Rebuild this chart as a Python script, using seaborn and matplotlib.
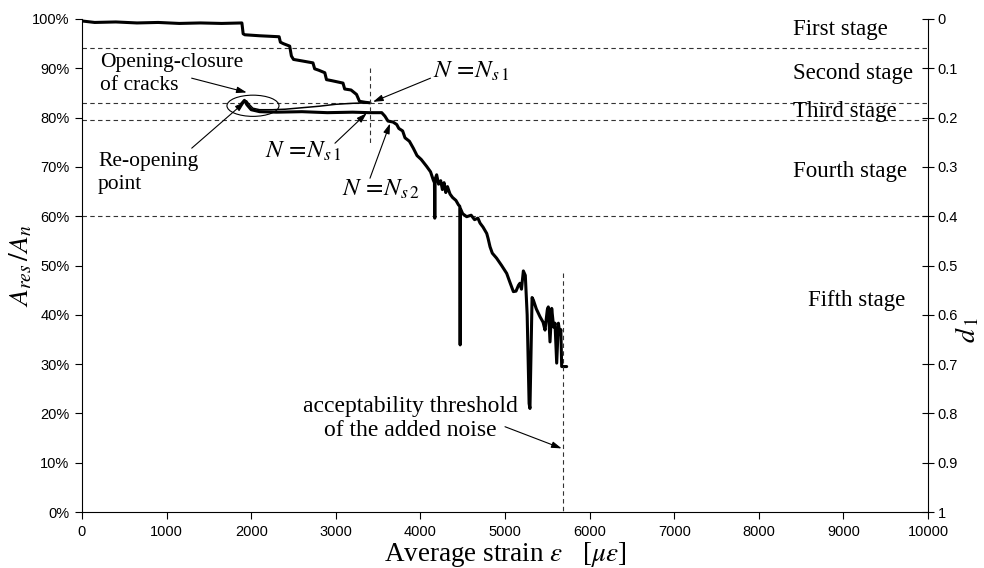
import matplotlib
matplotlib.use("Agg")
import matplotlib.pyplot as plt
import pandas as pd
import seaborn as sns
from matplotlib.patches import Ellipse
from matplotlib.ticker import FuncFormatter, FixedLocator

# --- data -----------------------------------------------------------------
# first loading: stepwise loss of the residual area ratio (%)
load_strain = [0, 150, 400, 650, 900, 1150, 1400, 1650, 1890, 1905, 1925, 2100,
               2330, 2345, 2380, 2455, 2475, 2500, 2600, 2730, 2750, 2800, 2870,
               2890, 2950, 3085, 3105, 3180, 3245, 3280, 3350, 3404]
load_ratio = [99.6, 99.3, 99.4, 99.2, 99.3, 99.1, 99.2, 99.1, 99.2, 97.0, 96.8, 96.6,
              96.4, 95.3, 95.0, 94.5, 92.5, 91.8, 91.5, 91.1, 89.9, 89.6, 89.1,
              87.7, 87.5, 87.0, 85.8, 85.6, 84.7, 83.3, 83.1, 83.0]

# unloading back towards the re-opening point
unload_strain = [3404, 3200, 3000, 2800, 2600, 2400, 2250, 2100, 2020, 1975, 1945, 1915, 1885]
unload_ratio = [83.0, 82.9, 82.7, 82.3, 82.0, 81.7, 81.6, 81.6, 81.9, 82.7, 83.4, 83.3, 82.8]

# reloading and progressive damage up to the end of the test
reload_strain = [1885, 1920, 1950, 2000, 2100, 2300, 2600, 2900, 3200, 3400, 3543,
                 3580, 3617, 3676, 3720, 3745, 3790, 3818, 3870, 3916, 3960, 4010,
                 4074, 4120, 4153, 4166, 4170, 4174, 4180, 4192, 4215, 4240, 4260,
                 4280, 4300, 4320, 4350, 4380, 4420, 4450, 4466, 4470, 4474, 4500,
                 4547, 4600, 4640, 4680, 4705, 4740, 4784, 4800, 4823, 4850, 4900,
                 4960, 5020, 5060, 5099, 5130, 5160, 5177, 5195, 5217, 5240, 5262,
                 5285, 5295, 5305, 5320, 5335, 5370, 5414, 5450, 5473, 5500, 5512,
                 5532, 5552, 5575, 5591, 5611, 5631, 5650, 5660, 5670, 5729]
reload_ratio = [82.8, 83.5, 82.6, 81.6, 81.2, 81.1, 81.2, 81.0, 81.1, 81.0, 81.0,
                80.3, 79.3, 79.1, 78.6, 77.8, 77.3, 75.9, 75.2, 73.8, 72.3, 71.5,
                70.1, 69.0, 67.3, 66.8, 59.6, 67.2, 67.8, 68.4, 66.5, 67.2, 65.4,
                66.8, 64.8, 66.0, 64.5, 63.8, 63.2, 62.3, 62.0, 33.9, 61.5, 60.5,
                59.9, 60.2, 59.3, 59.6, 58.6, 57.8, 56.5, 55.5, 53.8, 52.5, 51.5,
                50.0, 48.4, 46.5, 44.7, 44.8, 46.0, 46.4, 45.2, 48.9, 48.0, 40.0,
                22.0, 21.0, 30.0, 43.5, 43.0, 41.2, 39.6, 38.5, 36.9, 41.0, 41.6,
                34.5, 41.3, 37.5, 38.3, 30.2, 38.3, 36.0, 37.0, 29.5, 29.5]

stage_limits = [94.2, 83.0, 79.6, 60.0]
stage_names = ["First stage", "Second stage", "Third stage", "Fourth stage", "Fifth stage"]
stage_label_ratio = [97.8, 89.0, 81.3, 69.0, 43.0]

ns1_strain = 3404
noise_threshold = 5682

x_ticks = list(range(0, 10001, 1000))
left_ticks = list(range(0, 101, 10))
right_ticks = [0, 0.1, 0.2, 0.3, 0.4, 0.5, 0.6, 0.7, 0.8, 0.9, 1.0]
right_labels = ["0", "0.1", "0.2", "0.3", "0.4", "0.5", "0.6", "0.7", "0.8", "0.9", "1"]

# --- style ----------------------------------------------------------------
sns.set_theme(style="ticks")
plt.rcParams["font.family"] = ["Liberation Sans", "DejaVu Sans"]
plt.rcParams["mathtext.fontset"] = "stix"
plt.rcParams["text.color"] = "black"
plt.rcParams["axes.labelcolor"] = "black"
SERIF = ["Liberation Serif", "DejaVu Serif"]

fig = plt.figure(figsize=(9.84, 5.68), dpi=100)
ax = fig.add_axes([82 / 984, 1 - 512 / 568, (928 - 82) / 984, (512 - 19) / 568])

segments = [
    ("load", load_strain, load_ratio, 2.2),
    ("unload", unload_strain, unload_ratio, 1.1),
    ("reload", reload_strain, reload_ratio, 2.2),
]
for name, xs, ys, lw in segments:
    df = pd.DataFrame({"strain": xs, "ratio": ys})
    sns.lineplot(data=df, x="strain", y="ratio", sort=False, estimator=None,
                 color="black", linewidth=lw, ax=ax)

# stage boundaries
dash = dict(color="#333333", linewidth=0.8, linestyle=(0, (4, 3)))
for lim in stage_limits:
    ax.axhline(lim, **dash, zorder=1)
ax.plot([ns1_strain, ns1_strain], [90.0, 74.8], **dash)
ax.plot([noise_threshold, noise_threshold], [48.5, 0], **dash)

for name, yv in zip(stage_names, stage_label_ratio):
    xpos = 8580 if name == "Fifth stage" else 8400
    ax.text(xpos, yv, name, family=SERIF, fontsize=16.5, va="center", ha="left")

# crack opening/closure loop
ax.add_patch(Ellipse((2021, 82.4), 615, 4.3, fill=False, edgecolor="black", linewidth=0.8))

arrow = dict(arrowstyle="-|>,head_length=0.5,head_width=0.16", color="black",
             lw=0.8, mutation_scale=12, shrinkA=0, shrinkB=0)

def pointer(start, tip):
    ax.annotate("", xy=tip, xytext=start, arrowprops=arrow)

ax.text(210, 88.8, "Opening-closure\nof cracks", family=SERIF, fontsize=15.5,
        va="center", ha="left", linespacing=1.3)
pointer((1296, 88.0), (1947, 85.1))

ax.text(190, 68.8, "Re-opening\npoint", family=SERIF, fontsize=15.5,
        va="center", ha="left", linespacing=1.3)
pointer((1297, 73.8), (1927, 83.2))

ns1_text = r"$N\,=\!N_{s\,1}$"
ns2_text = r"$N\,=\!N_{s\,2}$"
ax.text(4150, 89.4, ns1_text, fontsize=18, va="center", ha="left")
pointer((4120, 88.0), (3440, 83.2))

ax.text(2160, 73.2, ns1_text, fontsize=18, va="center", ha="left")
pointer((2990, 74.8), (3365, 80.9))

ax.text(3070, 65.5, ns2_text, fontsize=18, va="center", ha="left")
pointer((3404, 67.7), (3641, 78.8))

ax.text(3880, 19.0, "acceptability threshold\nof the added noise", family=SERIF,
        fontsize=17, va="center", ha="center", linespacing=1.15)
pointer((5000, 17.3), (5670, 12.9))

# --- axes -----------------------------------------------------------------
ax.set_xlim(0, 10000)
ax.set_ylim(0, 100)
ax.xaxis.set_major_locator(FixedLocator(x_ticks))
ax.yaxis.set_major_locator(FixedLocator(left_ticks))
ax.yaxis.set_major_formatter(FuncFormatter(lambda v, p: f"{v:.0f}%"))
ax.tick_params(axis="both", direction="out", length=5, width=0.8, colors="black",
               labelsize=10.5, pad=4)
ax.set_xlabel(r"Average strain $\varepsilon$   [$\mu\varepsilon$]", family=SERIF,
              fontsize=19.5, labelpad=1)
ax.set_ylabel(r"$A_{res}\,/A_n$", fontsize=20)
ax.yaxis.set_label_coords(-0.056, 0.5)
for s in ("left", "bottom"):
    ax.spines[s].set_color("black")
    ax.spines[s].set_linewidth(0.8)
ax.spines["top"].set_visible(False)
ax.spines["right"].set_visible(False)

ax2 = ax.twinx()
ax2.set_ylim(1, 0)
ax2.yaxis.set_major_locator(FixedLocator(right_ticks))
ax2.set_yticklabels(right_labels)
ax2.tick_params(axis="y", direction="inout", length=8, width=0.8, colors="black",
                labelsize=10.5, pad=3)
for s in ("top", "left", "bottom"):
    ax2.spines[s].set_visible(False)
ax2.spines["right"].set_color("black")
ax2.spines["right"].set_linewidth(0.8)
ax2.set_ylabel(r"$d_{\,1}$", fontsize=20)
ax2.yaxis.set_label_coords(1.031, 0.37)

fig.savefig("out.png", dpi=100)
